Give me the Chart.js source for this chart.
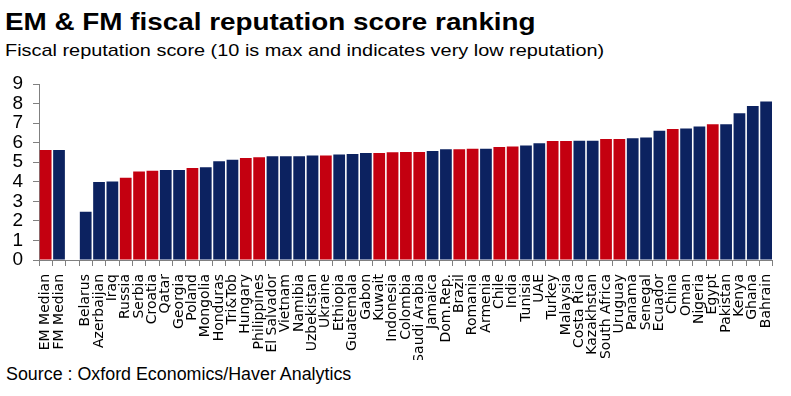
<!DOCTYPE html>
<html>
<head>
<meta charset="utf-8">
<script src="https://cdn.jsdelivr.net/npm/chart.js@4/dist/chart.umd.min.js"></script>
<style>
  html, body { margin: 0; padding: 0; background: #fff; }
  #wrap { position: relative; width: 791px; height: 396px; overflow: hidden; font-family: "Liberation Sans", Arial, sans-serif; color: #000; }
  .t { position: absolute; white-space: nowrap; line-height: 1; transform-origin: 0 0; }
  #title { left: 5px; top: 9.5px; font-size: 24px; font-weight: bold; transform: scaleX(1.16); }
  #subtitle { left: 5px; top: 41.5px; font-size: 17px; transform: scaleX(1.17); }
  #source { left: 6px; top: 366px; font-size: 17.5px; transform: scaleX(1.02); }
  #cv { position: absolute; left: 0; top: 60px; }
</style>
</head>
<body>
<div id="wrap">
  <div id="title" class="t">EM &amp; FM fiscal reputation score ranking</div>
  <div id="subtitle" class="t">Fiscal reputation score (10 is max and indicates very low reputation)</div>
  <canvas id="cv" width="791" height="300"></canvas>
  <div id="source" class="t">Source : Oxford Economics/Haver Analytics</div>
</div>
<script>
const categories = ["EM Median","FM Median","","Belarus","Azerbaijan","Iraq","Russia","Serbia","Croatia","Qatar","Georgia","Poland","Mongolia","Honduras","Tri&Tob","Hungary","Philippines","El Salvador","Vietnam","Namibia","Uzbekistan","Ukraine","Ethiopia","Guatemala","Gabon","Kuwait","Indonesia","Colombia","Saudi Arabia","Jamaica","Dom.Rep.","Brazil","Romania","Armenia","Chile","India","Tunisia","UAE","Turkey","Malaysia","Costa Rica","Kazakhstan","South Africa","Uruguay","Panama","Senegal","Ecuador","China","Oman","Nigeria","Egypt","Pakistan","Kenya","Ghana","Bahrain"];
const scores = [5.62,5.62,null,2.47,3.99,4.02,4.21,4.52,4.57,4.60,4.60,4.70,4.74,5.05,5.13,5.22,5.25,5.30,5.30,5.30,5.34,5.34,5.39,5.42,5.47,5.47,5.51,5.52,5.52,5.57,5.66,5.66,5.69,5.69,5.78,5.81,5.86,5.97,6.08,6.08,6.10,6.10,6.19,6.19,6.22,6.27,6.61,6.70,6.73,6.83,6.94,6.94,7.50,7.87,8.11];
// E = emerging market (red), F = frontier market (navy)
const groups = ["E","F","","F","F","F","E","E","E","F","F","E","F","F","F","E","E","F","F","F","F","E","F","F","F","E","E","E","E","F","F","E","E","F","E","E","F","F","E","E","F","F","E","E","F","F","F","E","F","F","E","F","F","F","F"];
const yTicks = [0,1,2,3,4,5,6,7,8,9];

const RED = "#C40010";
const NAVY = "#0C2260";
const colors = groups.map(g => g === "E" ? RED : NAVY);

new Chart(document.getElementById("cv"), {
  type: "bar",
  data: {
    labels: categories,
    datasets: [{
      data: scores,
      backgroundColor: colors,
      borderWidth: 0,
      barPercentage: 0.88,
      categoryPercentage: 1.0
    }]
  },
  options: {
    responsive: false,
    animation: false,
    layout: { padding: { top: 24, right: 8, left: 0, bottom: 0 } },
    plugins: { legend: { display: false }, tooltip: { enabled: false } },
    scales: {
      x: {
        afterFit: s => { s.height = 100; },
        grid: { display: true, drawOnChartArea: false, drawTicks: true, tickLength: 6, color: "#808080", offset: true },
        border: { display: true, color: "#808080", width: 1 },
        ticks: {
          autoSkip: false, minRotation: 90, maxRotation: 90, padding: 8,
          color: "#000",
          font: { family: "'DejaVu Sans', sans-serif", size: 14 }
        }
      },
      y: {
        min: 0, max: 9,
        afterFit: s => { s.width = 39; },
        afterBuildTicks: s => { s.ticks = yTicks.map(v => ({ value: v })); },
        grid: { display: true, drawOnChartArea: false, drawTicks: true, tickLength: 6, color: "#808080" },
        border: { display: true, color: "#808080", width: 1 },
        ticks: {
          autoSkip: false, stepSize: 1, padding: 10, color: "#000",
          font: { family: "'Liberation Sans', Arial, sans-serif", size: 19 }
        }
      }
    }
  }
});
</script>
</body>
</html>
